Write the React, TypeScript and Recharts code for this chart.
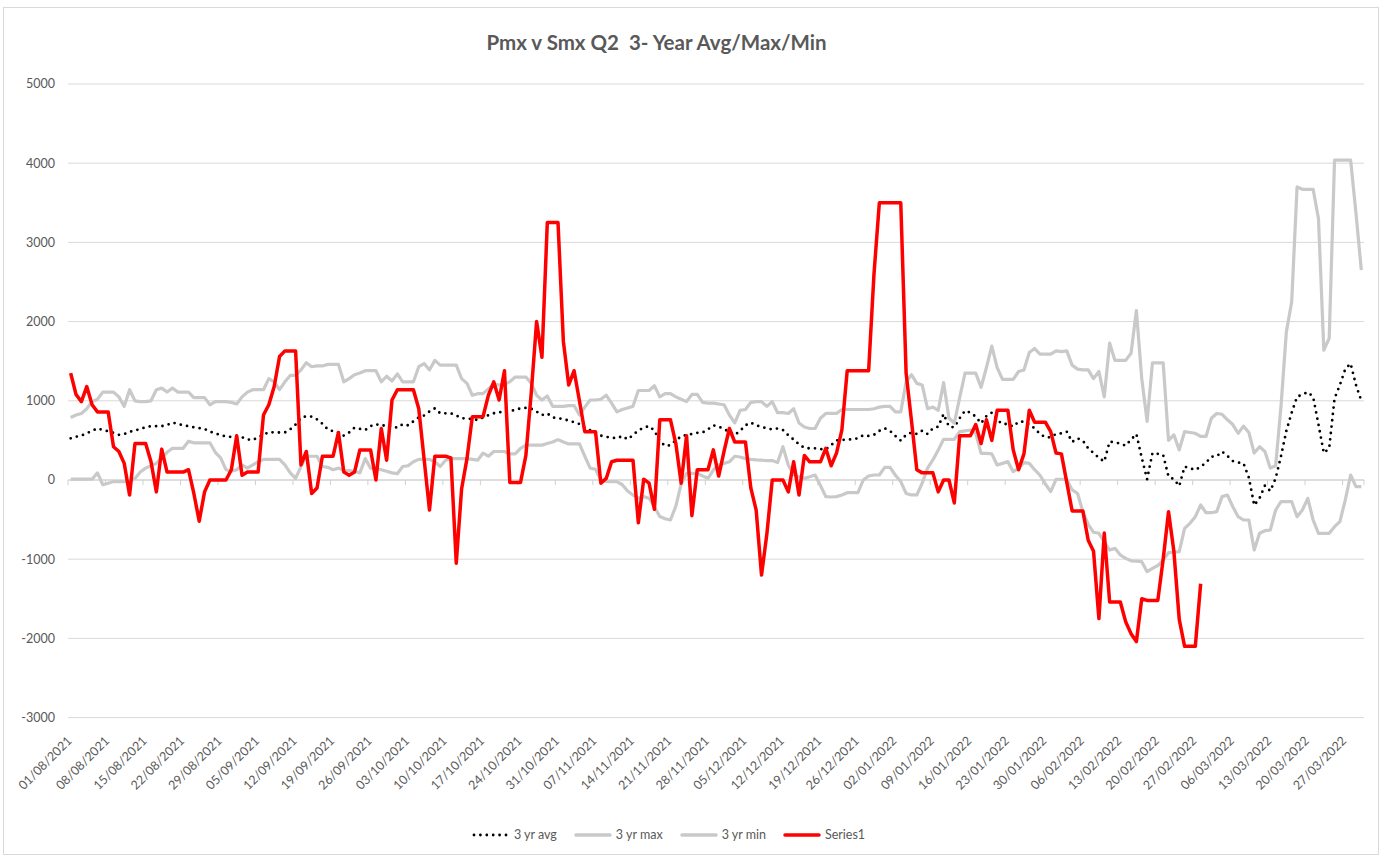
import { CartesianGrid, Line, LineChart, ReferenceLine, XAxis, YAxis } from 'recharts';

// daily categories, 01/08/2021 .. 30/03/2022
const firstDay = Date.UTC(2021, 7, 1);
const dayCount = 242;
const dates: string[] = Array.from({ length: dayCount }, (_, i) => {
  const d = new Date(firstDay + i * 86400000);
  const dd = String(d.getUTCDate()).padStart(2, '0');
  const mm = String(d.getUTCMonth() + 1).padStart(2, '0');
  return `${dd}/${mm}/${d.getUTCFullYear()}`;
});

const weekTicks = [
  0, 7, 14, 21, 28, 35, 42, 49, 56, 63, 70, 77, 84, 91, 98, 105, 112, 119, 126, 133, 140, 147,
  154, 161, 168, 175, 182, 189, 196, 203, 210, 217, 224, 231, 238,
];
const yTicks = [-3000, -2000, -1000, 0, 1000, 2000, 3000, 4000, 5000];

const avg3yr = [
  526, 547, 560, 590, 620, 652, 631, 615, 595, 570, 580, 610, 623, 645, 665, 680, 680, 680, 694, 725,
  710, 690, 680, 665, 655, 645, 610, 590, 565, 550, 543, 540, 540, 513, 503, 540, 570, 605, 600, 600,
  600, 640, 700, 785, 805, 800, 765, 710, 640, 615, 600, 560, 600, 660, 645, 630, 680, 705, 685, 692,
  675, 660, 705, 690, 740, 790, 815, 865, 905, 842, 842, 842, 815, 780, 775, 770, 757, 790, 818, 842,
  855, 863, 870, 884, 905, 910, 900, 863, 820, 840, 790, 779, 770, 750, 730, 707, 660, 630, 600, 560,
  545, 535, 526, 555, 513, 568, 625, 660, 680, 623, 490, 430, 440, 500, 550, 568, 581, 595, 600, 640,
  690, 675, 640, 610, 568, 620, 690, 724, 690, 670, 652, 640, 650, 630, 565, 510, 450, 405, 400, 400,
  390, 387, 440, 500, 505, 510, 515, 526, 565, 556, 570, 620, 652, 620, 555, 497, 570, 600, 581, 623,
  581, 652, 673, 833, 673, 666, 780, 875, 850, 800, 715, 808, 850, 757, 707, 707, 673, 736, 736, 700,
  652, 581, 539, 539, 581, 589, 610, 480, 526, 497, 400, 340, 280, 232, 484, 475, 460, 433, 510, 580,
  280, 10, 340, 330, 316, 42, 10, -76, 168, 150, 126, 168, 219, 295, 300, 358, 303, 240, 220, 210,
  30, -320, -230, -70, -140, 20, 300, 620, 850, 1050, 1080, 1110, 1050, 700, 340, 400, 1030, 1200, 1400, 1470,
  1200, 1000,
];

const max3yr = [
  790, 820, 840, 900, 990, 1020, 1110, 1110, 1110, 1050, 930, 1140, 1000, 990, 990, 1000, 1140, 1160, 1110, 1160,
  1110, 1110, 1110, 1040, 1040, 1040, 950, 990, 990, 990, 980, 960, 1050, 1110, 1140, 1140, 1140, 1280, 1240, 1140,
  1240, 1320, 1320, 1390, 1480, 1430, 1440, 1440, 1460, 1460, 1460, 1240, 1280, 1330, 1350, 1380, 1380, 1380, 1240, 1310,
  1250, 1340, 1240, 1240, 1240, 1430, 1470, 1390, 1510, 1450, 1450, 1450, 1450, 1280, 1220, 1070, 1090, 1090, 1150, 1210,
  1200, 1210, 1240, 1300, 1300, 1300, 1220, 1070, 1010, 1060, 930, 930, 930, 940, 940, 820, 920, 1010, 1010, 1020,
  1070, 970, 860, 890, 910, 930, 1130, 1130, 1130, 1190, 1050, 1090, 1090, 1050, 1020, 990, 1080, 1080, 980, 970,
  970, 960, 950, 820, 720, 880, 890, 980, 990, 990, 930, 990, 850, 850, 840, 900, 720, 670, 650, 650,
  780, 840, 840, 840, 890, 890, 890, 890, 890, 890, 900, 920, 930, 930, 860, 860, 1240, 1330, 1220, 1200,
  900, 920, 880, 1230, 780, 720, 1040, 1350, 1350, 1350, 1170, 1420, 1690, 1420, 1270, 1270, 1270, 1370, 1390, 1610,
  1660, 1590, 1590, 1590, 1630, 1620, 1630, 1450, 1400, 1390, 1390, 1280, 1370, 1050, 1730, 1510, 1510, 1510, 1600, 2140,
  1280, 740, 1480, 1480, 1480, 500, 570, 380, 610, 600, 590, 550, 550, 780, 840, 830, 760, 700, 590, 680,
  600, 340, 420, 360, 150, 180, 930, 1870, 2250, 3700, 3670, 3670, 3670, 3300, 1640, 1790, 4040, 4040, 4040, 4040,
  3370, 2650,
];

const min3yr = [
  10, 10, 10, 10, 10, 90, -60, -40, -20, -20, -20, -20, 20, 100, 150, 180, 210, 280, 350, 400,
  400, 400, 490, 470, 470, 470, 470, 350, 280, 130, 110, 130, 190, 150, 190, 230, 260, 260, 260, 260,
  190, 90, 20, 170, 300, 300, 300, 170, 160, 130, 150, 120, 120, 110, 90, 270, 150, 140, 130, 110,
  90, 80, 170, 180, 230, 260, 260, 260, 230, 170, 250, 270, 270, 270, 270, 260, 250, 340, 300, 360,
  360, 360, 330, 330, 400, 440, 440, 440, 440, 460, 480, 510, 480, 455, 455, 455, 300, 150, 135, 0,
  -20, -20, -20, -60, -140, -190, -230, -210, -230, -340, -460, -490, -505, -330, -50, 84, 84, 84, 50, 21,
  126, 190, 210, 230, 300, 290, 270, 260, 253, 250, 245, 245, 220, 420, 190, 70, 40, 21, 40, 63,
  -70, -210, -215, -210, -190, -160, -160, -160, 0, 50, 63, 63, 160, 160, 60, -20, -170, -189, -189, -40,
  150, 253, 380, 514, 514, 514, 610, 620, 631, 589, 337, 335, 330, 189, 210, 232, 105, 147, 219, 210,
  130, 60, -50, -147, 8, 8, 8, -126, -168, -400, -560, -660, -673, -780, -884, -863, -947, -990, -1020, -1025,
  -1031, -1157, -1115, -1080, -1010, -918, -910, -905, -610, -547, -463, -316, -413, -413, -400, -210, -190, -337, -463, -505,
  -505, -884, -673, -640, -631, -379, -274, -274, -274, -463, -379, -231, -505, -673, -673, -673, -589, -526, -253, 63,
  -84, -84,
];

const series1 = [
  1350, 1080, 990, 1180, 950, 860, 860, 860, 420, 360, 210, -190, 460, 460, 460, 230, -150, 390, 100, 100,
  100, 100, 130, -170, -520, -150, 0, 0, 0, 0, 130, 560, 60, 100, 100, 100, 820, 950, 1180, 1560,
  1630, 1630, 1630, 190, 360, -170, -100, 300, 300, 300, 600, 100, 60, 100, 380, 380, 380, 0, 650, 250,
  1010, 1140, 1140, 1140, 1140, 900, 260, -380, 300, 300, 300, 280, -1050, -110, 270, 800, 800, 800, 1070, 1240,
  1010, 1380, -30, -30, -30, 310, 1100, 2000, 1550, 3250, 3250, 3250, 1750, 1200, 1380, 1000, 610, 610, 610, -40,
  20, 230, 250, 250, 250, 250, -540, 10, -40, -370, 760, 760, 760, 460, -40, 560, -450, 130, 130, 130,
  380, 50, 360, 650, 480, 480, 480, -100, -380, -1200, -680, 0, 0, 0, -150, 230, -190, 310, 230, 230,
  230, 400, 180, 340, 630, 1380, 1380, 1380, 1380, 1380, 2600, 3500, 3500, 3500, 3500, 3500, 1350, 750, 130, 90,
  90, 90, -150, 0, 0, -290, 560, 560, 560, 700, 460, 760, 500, 880, 880, 880, 380, 130, 330, 880,
  730, 730, 730, 610, 340, 330, -30, -390, -390, -390, -760, -900, -1750, -670, -1540, -1540, -1540, -1790, -1940, -2040,
  -1500, -1520, -1520, -1520, -1000, -400, -900, -1760, -2100, -2100, -2100, -1310,
];

const rows = dates.map((date, i) => ({
  i,
  date,
  avg: avg3yr[i],
  max: max3yr[i],
  min: min3yr[i],
  s1: i < series1.length ? series1[i] : null,
}));

// small tick marks on the zero line, between the weekly groups
const tickMarks = [-0.5, ...weekTicks.slice(1).map((t) => t - 0.5), 241.5];

const textColor = '#595959';
const fontFamily = 'Lato, "Open Sans", sans-serif';

const DateTick = (props: any) => {
  const { x, y, payload } = props;
  const ax = x + 2;
  const ay = y + 22;
  return (
    <text
      x={ax}
      y={ay}
      textAnchor="end"
      fill={textColor}
      fontSize={12.5}
      fontFamily={fontFamily}
      transform={`rotate(-45, ${ax}, ${ay})`}
    >
      {dates[payload.value]}
    </text>
  );
};

const legendItems = [
  { name: '3 yr avg', color: '#000', dotted: true },
  { name: '3 yr max', color: '#c9c9c9', dotted: false },
  { name: '3 yr min', color: '#c9c9c9', dotted: false },
  { name: 'Series1', color: '#ff0000', dotted: false },
];

export default function App() {
  return (
    <div
      style={{
        position: 'absolute',
        left: 3,
        top: 7,
        width: 1374,
        height: 846,
        border: '1px solid #d9d9d9',
        background: '#fff',
        fontFamily,
      }}
    >
      <div
        style={{
          position: 'absolute',
          left: 0,
          width: 1305,
          top: 22,
          textAlign: 'center',
          fontSize: 20.5,
          fontWeight: 700,
          color: textColor,
          whiteSpace: 'pre',
        }}
      >
        Pmx v Smx Q2  3- Year Avg/Max/Min
      </div>
      <LineChart
        width={1374}
        height={846}
        data={rows}
        margin={{ top: 76, right: 14, bottom: 80, left: 0 }}
      >
        <CartesianGrid vertical={false} stroke="#d9d9d9" />
        <XAxis
          dataKey="i"
          type="number"
          domain={[-0.5, 241.5]}
          ticks={weekTicks}
          interval={0}
          tick={<DateTick />}
          tickLine={false}
          axisLine={false}
          tickSize={0}
          height={56.4}
        />
        <YAxis
          domain={[-3000, 5000]}
          ticks={yTicks}
          width={64}
          tickLine={false}
          axisLine={false}
          tickSize={0}
          tickMargin={13}
          tick={{ fill: textColor, fontSize: 12.5, fontFamily }}
        />
        <ReferenceLine y={0} stroke="#d0d0d0" />
        {tickMarks.map((t) => (
          <ReferenceLine
            key={t}
            segment={[
              { x: t, y: 0 },
              { x: t, y: -65 },
            ]}
            stroke="#d0d0d0"
          />
        ))}
        <Line
          dataKey="avg"
          name="3 yr avg"
          type="linear"
          stroke="#000"
          strokeWidth={2.8}
          strokeDasharray="0 6.4"
          strokeLinecap="round"
          dot={false}
          activeDot={false}
          isAnimationActive={false}
        />
        <Line
          dataKey="max"
          name="3 yr max"
          type="linear"
          stroke="#c9c9c9"
          strokeWidth={3.2}
          strokeLinejoin="round"
          dot={false}
          activeDot={false}
          isAnimationActive={false}
        />
        <Line
          dataKey="min"
          name="3 yr min"
          type="linear"
          stroke="#c9c9c9"
          strokeWidth={3.2}
          strokeLinejoin="round"
          dot={false}
          activeDot={false}
          isAnimationActive={false}
        />
        <Line
          dataKey="s1"
          name="Series1"
          type="linear"
          stroke="#ff0000"
          strokeWidth={3.5}
          strokeLinejoin="round"
          dot={false}
          activeDot={false}
          connectNulls={false}
          isAnimationActive={false}
        />
      </LineChart>
      <div
        style={{
          position: 'absolute',
          left: 0,
          width: 1328,
          top: 819,
          display: 'flex',
          justifyContent: 'center',
          gap: 16,
          fontSize: 12.5,
          color: textColor,
        }}
      >
        {legendItems.map((item) => (
          <div key={item.name} style={{ display: 'flex', alignItems: 'center', gap: 3 }}>
            <svg width={40} height={10}>
              <line
                x1={3}
                y1={5}
                x2={37}
                y2={5}
                stroke={item.color}
                strokeWidth={item.dotted ? 2.8 : 3.5}
                strokeDasharray={item.dotted ? '0 6.4' : undefined}
                strokeLinecap="round"
              />
            </svg>
            <span>{item.name}</span>
          </div>
        ))}
      </div>
    </div>
  );
}
